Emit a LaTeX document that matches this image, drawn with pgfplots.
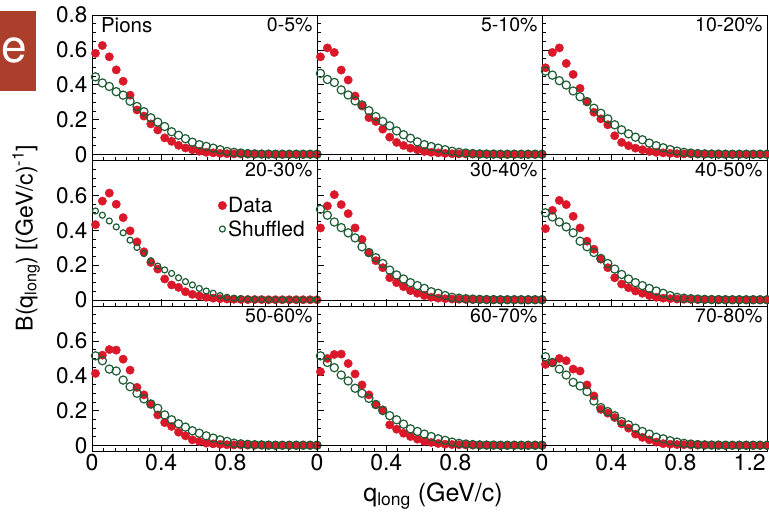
\documentclass[border=0pt]{standalone}
\usepackage{fontspec}
\setmainfont{TeX Gyre Heros}
\usepackage{pgfplots}
\pgfplotsset{compat=1.18}
\usepackage{pgfplotstable}
\definecolor{dred}{RGB}{218,24,42}
\definecolor{dgreen}{RGB}{30,92,52}
\definecolor{boxred}{RGB}{172,62,44}

% rows of panels: x, Data (d) and Shuffled (s) for three centrality classes each
\pgfplotstableread{
x d1 s1 d2 s2 d3 s3
0.02 0.580 0.445 0.560 0.465 0.497 0.478
0.06 0.625 0.410 0.611 0.430 0.585 0.455
0.10 0.560 0.390 0.585 0.413 0.611 0.423
0.14 0.485 0.360 0.484 0.370 0.522 0.398
0.18 0.420 0.340 0.427 0.341 0.459 0.364
0.22 0.340 0.305 0.335 0.307 0.379 0.331
0.26 0.255 0.275 0.278 0.284 0.303 0.303
0.30 0.220 0.245 0.211 0.251 0.242 0.265
0.34 0.175 0.210 0.189 0.217 0.204 0.236
0.38 0.140 0.185 0.145 0.189 0.170 0.204
0.42 0.095 0.160 0.099 0.164 0.107 0.170
0.46 0.075 0.130 0.069 0.135 0.069 0.141
0.50 0.052 0.110 0.051 0.113 0.050 0.118
0.54 0.037 0.090 0.036 0.093 0.036 0.099
0.58 0.027 0.070 0.027 0.072 0.027 0.084
0.62 0.018 0.056 0.017 0.056 0.017 0.065
0.66 0.012 0.046 0.012 0.045 0.012 0.050
0.70 0.009 0.036 0.009 0.036 0.009 0.038
0.74 0.006 0.027 0.006 0.027 0.006 0.028
0.78 0.004 0.017 0.004 0.018 0.004 0.019
0.82 0.003 0.012 0.003 0.012 0.003 0.012
0.86 0.003 0.008 0.003 0.008 0.003 0.008
0.90 0.002 0.005 0.002 0.005 0.002 0.005
0.94 0.002 0.003 0.002 0.003 0.002 0.003
0.98 0.002 0.002 0.002 0.002 0.002 0.002
1.02 0.001 0.002 0.001 0.002 0.001 0.002
1.06 0.001 0.001 0.001 0.001 0.001 0.001
1.10 0.001 0.001 0.001 0.001 0.001 0.001
1.14 0.001 0.001 0.001 0.001 0.001 0.001
1.18 0.001 0.001 0.001 0.001 0.001 0.001
1.22 0.001 0.001 0.001 0.001 0.001 0.001
1.26 0.001 0.001 0.001 0.001 0.001 0.001
1.30 0.001 0.001 0.001 0.001 0.001 0.001
}\rowA

\pgfplotstableread{
x d1 s1 d2 s2 d3 s3
0.02 0.432 0.510 0.413 0.520 0.409 0.500
0.06 0.567 0.486 0.539 0.486 0.514 0.476
0.10 0.613 0.453 0.604 0.447 0.571 0.447
0.14 0.549 0.419 0.547 0.415 0.547 0.419
0.18 0.472 0.385 0.495 0.385 0.480 0.385
0.22 0.396 0.343 0.413 0.356 0.413 0.337
0.26 0.333 0.301 0.347 0.305 0.337 0.305
0.30 0.276 0.266 0.270 0.272 0.291 0.272
0.34 0.215 0.225 0.225 0.242 0.234 0.238
0.38 0.177 0.194 0.185 0.209 0.185 0.209
0.42 0.120 0.172 0.127 0.171 0.127 0.177
0.46 0.086 0.152 0.099 0.143 0.091 0.146
0.50 0.072 0.127 0.076 0.120 0.070 0.120
0.54 0.047 0.105 0.053 0.099 0.051 0.099
0.58 0.032 0.086 0.038 0.082 0.038 0.082
0.62 0.023 0.066 0.025 0.066 0.025 0.066
0.66 0.015 0.051 0.015 0.047 0.015 0.051
0.70 0.010 0.038 0.010 0.038 0.010 0.038
0.74 0.007 0.025 0.007 0.025 0.007 0.025
0.78 0.005 0.015 0.005 0.015 0.005 0.015
0.82 0.004 0.010 0.004 0.010 0.004 0.010
0.86 0.003 0.007 0.003 0.007 0.003 0.007
0.90 0.002 0.005 0.002 0.005 0.002 0.005
0.94 0.002 0.003 0.002 0.003 0.002 0.003
0.98 0.002 0.002 0.002 0.002 0.002 0.002
1.02 0.001 0.002 0.001 0.002 0.001 0.002
1.06 0.001 0.001 0.001 0.001 0.001 0.001
1.10 0.001 0.001 0.001 0.001 0.001 0.001
1.14 0.001 0.001 0.001 0.001 0.001 0.001
1.18 0.001 0.001 0.001 0.001 0.001 0.001
1.22 0.001 0.001 0.001 0.001 0.001 0.001
1.26 0.001 0.001 0.001 0.001 0.001 0.001
1.30 0.001 0.001 0.001 0.001 0.001 0.001
}\rowB

\pgfplotstableread{
x d1 s1 d2 s2 d3 s3
0.02 0.413 0.514 0.423 0.514 0.465 0.509
0.06 0.518 0.486 0.499 0.476 0.474 0.476
0.10 0.550 0.438 0.522 0.446 0.499 0.438
0.14 0.547 0.427 0.524 0.404 0.486 0.404
0.18 0.495 0.375 0.470 0.370 0.438 0.362
0.22 0.432 0.337 0.410 0.328 0.427 0.341
0.26 0.333 0.299 0.347 0.299 0.347 0.309
0.30 0.290 0.267 0.290 0.270 0.284 0.255
0.34 0.236 0.238 0.233 0.235 0.207 0.217
0.38 0.175 0.213 0.204 0.200 0.185 0.194
0.42 0.131 0.175 0.118 0.171 0.160 0.170
0.46 0.109 0.147 0.093 0.147 0.124 0.137
0.50 0.076 0.124 0.070 0.122 0.099 0.118
0.54 0.055 0.105 0.051 0.095 0.065 0.099
0.58 0.032 0.084 0.036 0.080 0.046 0.080
0.62 0.023 0.070 0.023 0.065 0.032 0.065
0.66 0.013 0.055 0.017 0.051 0.019 0.047
0.70 0.009 0.042 0.011 0.038 0.010 0.038
0.74 0.006 0.032 0.007 0.029 0.007 0.027
0.78 0.004 0.023 0.005 0.019 0.005 0.019
0.82 0.003 0.013 0.004 0.012 0.004 0.012
0.86 0.003 0.009 0.003 0.008 0.003 0.008
0.90 0.002 0.006 0.002 0.005 0.002 0.005
0.94 0.002 0.004 0.002 0.003 0.002 0.003
0.98 0.002 0.003 0.002 0.002 0.002 0.002
1.02 0.001 0.002 0.001 0.002 0.001 0.002
1.06 0.001 0.001 0.001 0.001 0.001 0.001
1.10 0.001 0.001 0.001 0.001 0.001 0.001
1.14 0.001 0.001 0.001 0.001 0.001 0.001
1.18 0.001 0.001 0.001 0.001 0.001 0.001
1.22 0.001 0.001 0.001 0.001 0.001 0.001
1.26 0.001 0.001 0.001 0.001 0.001 0.001
1.30 0.001 0.001 0.001 0.001 0.001 0.001
}\rowC

\tikzset{
  clab/.style={anchor=north east, font=\fontsize{19.5bp}{19.5bp}\selectfont, inner sep=1bp},
}
\pgfplotsset{
  panel/.style={
    scale only axis, width=225bp, height=145.5bp, anchor=north west,
    xmin=0, xmax=1.3, ymin=-0.035, ymax=0.8,
    xtick={0,0.4,0.8,1.2}, ytick={0,0.2,0.4,0.6,0.8},
    minor x tick num=5, minor y tick num=3,
    tick align=inside, xtick pos=bottom, ytick pos=left,
    xticklabels={}, yticklabels={},
    major tick length=7bp, minor tick length=3.5bp,
    axis line style={black, line width=0.8bp},
    tick style={black, line width=0.6bp},
    clip=false,
    xticklabel style={font=\fontsize{23bp}{23bp}\selectfont, inner sep=1bp, yshift=-1bp},
    yticklabel style={font=\fontsize{22.5bp}{22.5bp}\selectfont, inner sep=2bp, xshift=-2.5bp},
    legend image code/.code={\draw[#1] plot coordinates {(0.12cm,0cm)};},
  },
  zline/.style={black, line width=0.8bp, forget plot},
  dataplot/.style={only marks, mark=*, mark size=4.2bp, color=dred, mark options={draw=dred, fill=dred}},
  shufplot/.style={only marks, mark=o, mark size=4.1bp, color=dgreen, mark options={draw=dgreen, line width=1.2bp}},
}

\begin{document}
\begin{tikzpicture}
\path[use as bounding box] (0bp,0bp) rectangle (769bp,-513bp);
\fill[boxred] (0bp,-11bp) rectangle (36bp,-91bp);
\node[white, font=\fontsize{46bp}{46bp}\selectfont, inner sep=0pt] at (14bp,-50bp) {e};

% Row 1
\begin{axis}[panel, at={(92bp,-15bp)}, yticklabels={0,0.2,0.4,0.6,0.8}]
\addplot[zline] coordinates {(0,0) (1.3,0)};
\addplot[dataplot] table[x=x,y=d1]{\rowA};
\addplot[shufplot] table[x=x,y=s1]{\rowA};
\node[anchor=north west, font=\fontsize{20.5bp}{20.5bp}\selectfont, inner sep=1bp] at (rel axis cs:0.035,0.99) {Pions};
\node[clab] at (rel axis cs:0.985,0.99) {0-5\%};
\end{axis}
\begin{axis}[panel, at={(317bp,-15bp)}]
\addplot[zline] coordinates {(0,0) (1.3,0)};
\addplot[dataplot] table[x=x,y=d2]{\rowA};
\addplot[shufplot] table[x=x,y=s2]{\rowA};
\node[clab] at (rel axis cs:0.985,0.99) {5-10\%};
\end{axis}
\begin{axis}[panel, at={(542bp,-15bp)}]
\addplot[zline] coordinates {(0,0) (1.3,0)};
\addplot[dataplot] table[x=x,y=d3]{\rowA};
\addplot[shufplot] table[x=x,y=s3]{\rowA};
\node[clab] at (rel axis cs:0.985,0.99) {10-20\%};
\end{axis}

% Row 2
\begin{axis}[panel, at={(92bp,-160.5bp)}, yticklabels={0,0.2,0.4,0.6,{}},
  legend style={at={(rel axis cs:0.56,0.76)}, anchor=north west, draw=none, fill=none,
    font=\fontsize{21bp}{21bp}\selectfont, inner sep=0pt, row sep=3.5bp,
    nodes={inner sep=1.5bp}}, legend cell align=left]
\addplot[zline] coordinates {(0,0) (1.3,0)};
\addplot[dataplot] table[x=x,y=d1]{\rowB};
\addlegendentry{Data}
\addplot[shufplot, mark size=3bp] table[x=x,y=s1]{\rowB};
\addlegendentry{Shuffled}
\node[clab] at (rel axis cs:0.985,0.99) {20-30\%};
\end{axis}
\begin{axis}[panel, at={(317bp,-160.5bp)}]
\addplot[zline] coordinates {(0,0) (1.3,0)};
\addplot[dataplot] table[x=x,y=d2]{\rowB};
\addplot[shufplot] table[x=x,y=s2]{\rowB};
\node[clab] at (rel axis cs:0.985,0.99) {30-40\%};
\end{axis}
\begin{axis}[panel, at={(542bp,-160.5bp)}]
\addplot[zline] coordinates {(0,0) (1.3,0)};
\addplot[dataplot] table[x=x,y=d3]{\rowB};
\addplot[shufplot] table[x=x,y=s3]{\rowB};
\node[clab] at (rel axis cs:0.985,0.99) {40-50\%};
\end{axis}

% Row 3
\begin{axis}[panel, at={(92bp,-306bp)}, yticklabels={0,0.2,0.4,0.6,{}}, xticklabels={0,0.4,0.8,{}}]
\addplot[zline] coordinates {(0,0) (1.3,0)};
\addplot[dataplot] table[x=x,y=d1]{\rowC};
\addplot[shufplot] table[x=x,y=s1]{\rowC};
\node[clab] at (rel axis cs:0.985,0.99) {50-60\%};
\end{axis}
\begin{axis}[panel, at={(317bp,-306bp)}, xticklabels={0,0.4,0.8,{}}]
\addplot[zline] coordinates {(0,0) (1.3,0)};
\addplot[dataplot] table[x=x,y=d2]{\rowC};
\addplot[shufplot] table[x=x,y=s2]{\rowC};
\node[clab] at (rel axis cs:0.985,0.99) {60-70\%};
\end{axis}
\begin{axis}[panel, at={(542bp,-306bp)}, xticklabels={0,0.4,0.8,1.2}]
\addplot[zline] coordinates {(0,0) (1.3,0)};
\addplot[dataplot] table[x=x,y=d3]{\rowC};
\addplot[shufplot] table[x=x,y=s3]{\rowC};
\node[clab] at (rel axis cs:0.985,0.99) {70-80\%};
\end{axis}

\node[rotate=90, font=\fontsize{23bp}{23bp}\selectfont, inner sep=0pt] at (26bp,-238bp)
  {B(q\textsubscript{long}) [(GeV/c)\textsuperscript{-1}]};
\node[font=\fontsize{25bp}{25bp}\selectfont, inner sep=0pt] at (433bp,-496bp)
  {q\textsubscript{long} (GeV/c)};
\end{tikzpicture}
\end{document}
